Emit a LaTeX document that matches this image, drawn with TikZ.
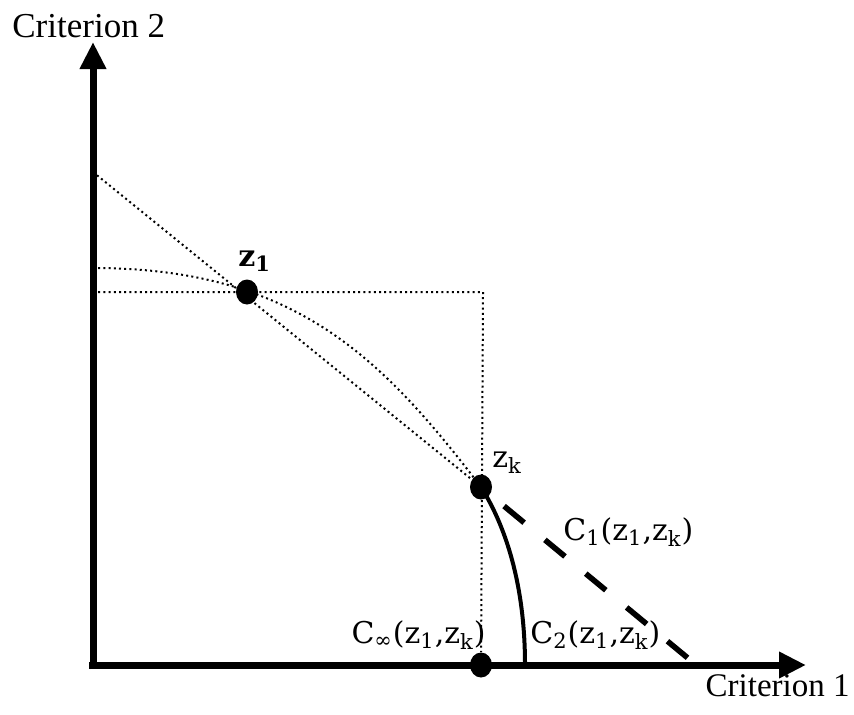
\documentclass[tikz,border=0pt]{standalone}
\usepackage{fontspec}
\setmainfont{Liberation Serif}
\newfontfamily\lblfont{DejaVu Serif}
\usetikzlibrary{arrows.meta,positioning,calc,shapes.geometric}

\begin{document}
\begin{tikzpicture}[x=0.5pt, y=-0.5pt,
  axis/.style={line width=3.5pt, -{Triangle[length=13.5pt,width=12.5pt]}},
  guide/.style={line width=1pt, dash pattern=on 1pt off 1.6pt},
  dot/.style={ellipse, fill=black, inner sep=0pt, minimum width=11pt, minimum height=12.5pt},
  lbl/.style={font=\lblfont\fontsize{15}{18}\selectfont, inner sep=0pt},
  crit/.style={font=\fontsize{17.5}{20}\selectfont, inner sep=0pt}
]
  \useasboundingbox (0,0) rectangle (854,714);
  % axes
  \coordinate (ybot) at (93,669);
  \coordinate (ytip) at (93,42);
  \coordinate (xleft) at (89,665);
  \coordinate (xtip) at (806,665);
  \draw[axis] (ybot) -- (ytip);
  \draw[axis] (xleft) -- (xtip);
  \node[crit, anchor=base west] (ylab) at (12,37) {Criterion 2};
  \node[crit, font=\fontsize{16.5}{20}\selectfont, anchor=base east] (xlab) at (850,696) {Criterion 1};

  % points
  \node[dot] (z1) at (247,292) {};
  \node[dot] (zk) at (481,487) {};
  \node[dot] (zb) at (481,665) {};

  % dotted guides
  \coordinate (a1) at (93,172);
  \coordinate (a2) at (93,268);
  \coordinate (a3) at (93,292);
  \coordinate (corner) at (483,292);
  \draw[guide] (a3) -- (corner) -- (zb);
  \draw[guide] (a1) -- (zk.center);
  \draw[guide] (a2) .. controls (293,268) and (381,356) .. (zk.center);

  % C1 and C2
  \coordinate (c1end) at (689,659);
  \coordinate (c2end) at (525,665);
  \draw[line width=2.8pt, dash pattern=on 13pt off 13.5pt, shorten <=9pt] (zk) -- (c1end);
  \draw[line width=2pt] (zk.center) .. controls (508,530) and (525,590) .. (c2end);

  % labels
  \node[lbl, anchor=base west] (lz1) at (238,266) {\textbf{z\textsubscript{1}}};
  \node[lbl, anchor=base west] (lzk) at (492,467) {z\textsubscript{k}};
  \node[lbl, anchor=base west] (lc1) at (563,540) {C\textsubscript{1}(z\textsubscript{1},z\textsubscript{k})};
  \node[lbl, anchor=base east] (lcinf) at (486,643) {C\textsubscript{∞}(z\textsubscript{1},z\textsubscript{k})};
  \node[lbl, anchor=base west] (lc2) at (530,643) {C\textsubscript{2}(z\textsubscript{1},z\textsubscript{k})};
\end{tikzpicture}
\end{document}
